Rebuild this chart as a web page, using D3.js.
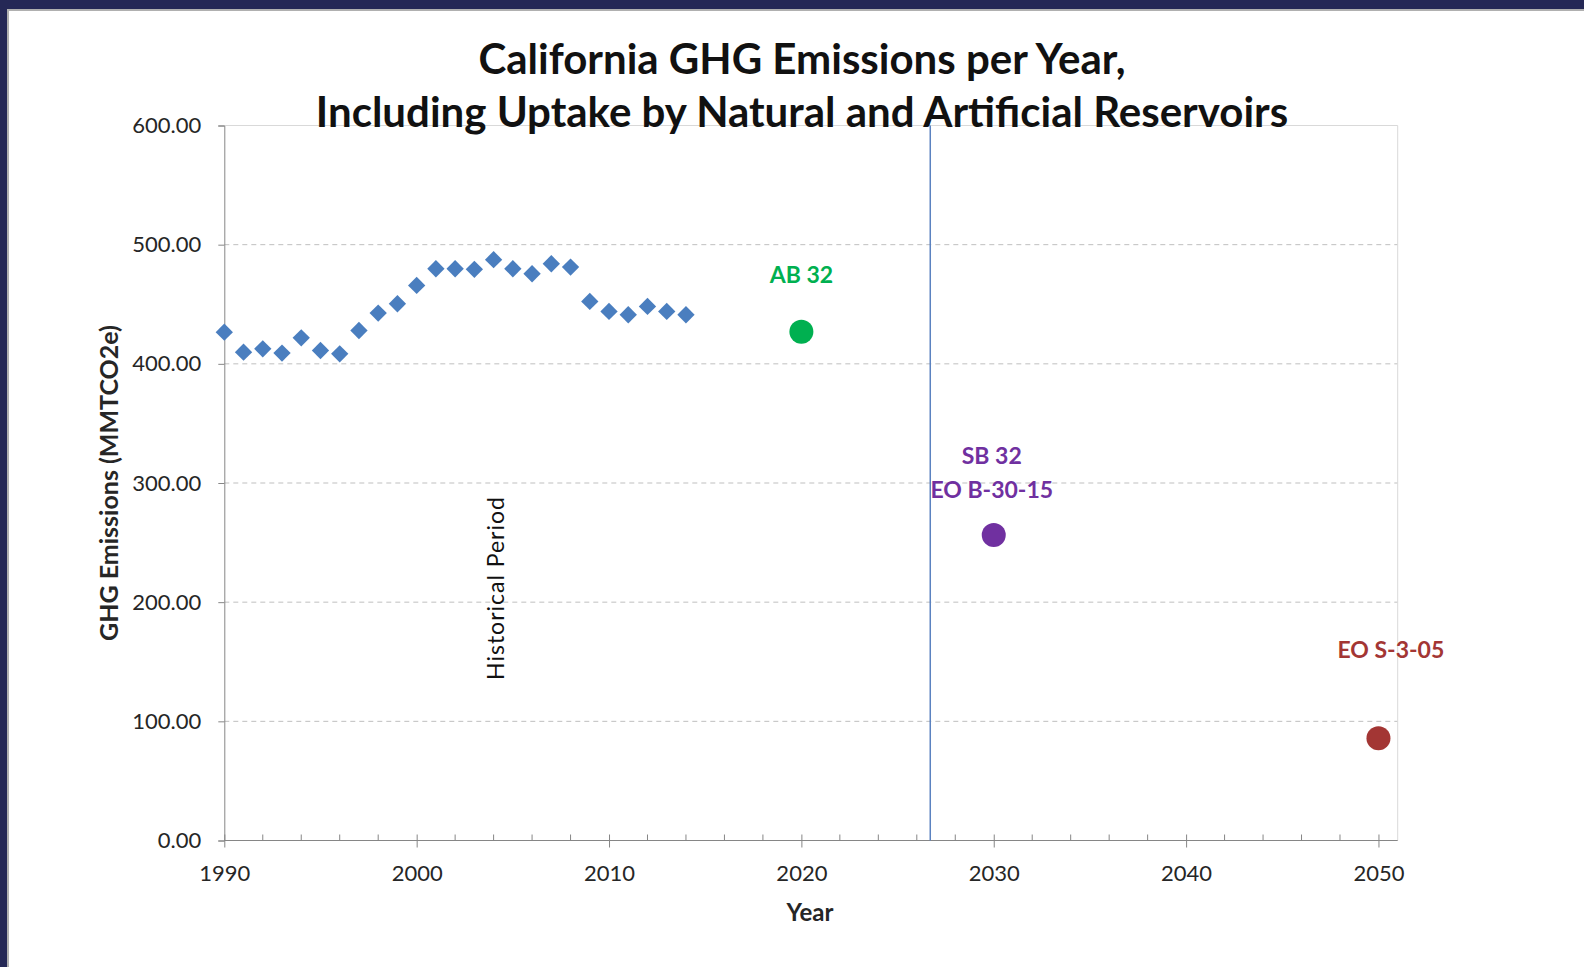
<!DOCTYPE html>
<html>
<head>
<meta charset="utf-8">
<script src="https://d3js.org/d3.v7.min.js"></script>
<style>
    body { margin: 0; background: #fff; }
    svg { display: block; font-family: Lato, "Open Sans", sans-serif; }
</style>
</head>
<body>
<svg id="chart"></svg>
<script>
    // historical emissions
    const years = [1990, 1991, 1992, 1993, 1994, 1995, 1996, 1997, 1998, 1999,
                   2000, 2001, 2002, 2003, 2004, 2005, 2006, 2007, 2008, 2009,
                   2010, 2011, 2012, 2013, 2014];
    const emissions = [426.6, 409.8, 412.6, 409.0, 421.8, 411.2, 408.4, 428.0, 442.6, 450.4,
                       465.8, 479.8, 479.8, 479.3, 487.4, 479.8, 475.6, 484.0, 481.2, 452.4,
                       444.0, 441.2, 448.2, 444.0, 441.2];

    // policy targets
    const targetYears = [2020, 2030, 2050];
    const targetValues = [427, 256.4, 85.8];
    const targetLabels = [["AB 32"], ["SB 32", "EO B-30-15"], ["EO S-3-05"]];
    const targetColors = ["#00b050", "#7030a0", "#a33634"];

    const yTicks = [0, 100, 200, 300, 400, 500, 600];
    const xTicks = [1990, 2000, 2010, 2020, 2030, 2040, 2050];
    const dividerYear = 2026.7;

    const W = 1584, H = 967;
    const svg = d3.select("#chart").attr("width", W).attr("height", H);

    // frame like the slide it came from
    svg.append("rect").attr("width", W).attr("height", 9).attr("fill", "#252856");
    svg.append("rect").attr("width", 7).attr("height", H).attr("fill", "#252856");
    svg.append("line").attr("x1", 8).attr("x2", 8).attr("y1", 9).attr("y2", H)
        .attr("stroke", "#b0b0b0").attr("stroke-width", 2);
    svg.append("line").attr("x1", 7).attr("x2", W).attr("y1", 10).attr("y2", 10)
        .attr("stroke", "#b0b0b0").attr("stroke-width", 2);

    const x = d3.scaleLinear().domain([1990, 2051]).range([224.3, 1397.7]);
    const y = d3.scaleLinear().domain([0, 600]).range([840.5, 125.5]);

    // gridlines
    svg.append("g").selectAll("line")
        .data(yTicks.filter(d => d > 0 && d < 600))
        .join("line")
        .attr("x1", x(1990)).attr("x2", x(2051))
        .attr("y1", d => y(d)).attr("y2", d => y(d))
        .attr("stroke", "#bfbfbf").attr("stroke-dasharray", "5,4");

    // top and right border of the plot
    svg.append("path")
        .attr("d", `M${x(1990)},${y(600)}H${x(2051)}V${y(0)}`)
        .attr("fill", "none").attr("stroke", "#d9d9d9");

    // y axis
    const yAxis = svg.append("g")
        .attr("transform", `translate(${x(1990)},0)`)
        .call(d3.axisLeft(y).tickValues(yTicks).tickSize(6).tickPadding(17)
            .tickFormat(d3.format(".2f")));
    yAxis.selectAll("path, line").attr("stroke", "#868686");
    yAxis.selectAll("text").attr("font-size", 22).attr("fill", "#262626")
        .attr("font-family", "Lato, sans-serif");

    // x axis: minor ticks every 2 years inside, major ticks crossing
    const xAxis = svg.append("g")
        .attr("transform", `translate(0,${y(0)})`)
        .call(d3.axisBottom(x).tickValues(xTicks).tickSize(7)
            .tickFormat(d3.format("d")));
    xAxis.select("path").attr("d", `M${x(1990)},0H${x(2051)}`);
    xAxis.selectAll(".tick line").attr("y1", -6);
    xAxis.selectAll("path, line").attr("stroke", "#868686");
    xAxis.selectAll("text").attr("font-size", 22).attr("fill", "#262626")
        .attr("font-family", "Lato, sans-serif")
        .attr("y", 40).attr("dy", 0);
    xAxis.append("g").selectAll("line")
        .data(d3.range(1992, 2051, 2).filter(d => d % 10 !== 0))
        .join("line")
        .attr("x1", d => x(d)).attr("x2", d => x(d))
        .attr("y1", 0).attr("y2", -6)
        .attr("stroke", "#868686");

    // divider between historical and projected
    svg.append("line")
        .attr("x1", x(dividerYear)).attr("x2", x(dividerYear))
        .attr("y1", y(600)).attr("y2", y(0))
        .attr("stroke", "#5b82c0").attr("stroke-width", 1.5);

    // historical diamonds
    svg.append("g").selectAll("path")
        .data(years)
        .join("path")
        .attr("d", d3.symbol(d3.symbolSquare, 150))
        .attr("transform", (d, i) => `translate(${x(d)},${y(emissions[i])}) rotate(45)`)
        .attr("fill", "#4a7ebf");

    // targets
    svg.append("g").selectAll("circle")
        .data(targetYears)
        .join("circle")
        .attr("cx", d => x(d))
        .attr("cy", (d, i) => y(targetValues[i]))
        .attr("r", 12)
        .attr("fill", (d, i) => targetColors[i]);

    const labelOffsets = [[0, -48.7], [-2, -71], [12.4, -80]];
    targetYears.forEach((yr, i) => {
        const t = svg.append("text")
            .attr("text-anchor", "middle")
            .attr("font-weight", "bold")
            .attr("font-size", 23)
            .attr("fill", targetColors[i]);
        targetLabels[i].forEach((line, j) => {
            t.append("tspan")
                .attr("x", x(yr) + labelOffsets[i][0])
                .attr("y", y(targetValues[i]) + labelOffsets[i][1] + j * 34.3)
                .text(line);
        });
    });

    svg.append("text")
        .attr("transform", `translate(504,588) rotate(-90)`)
        .attr("text-anchor", "middle")
        .attr("font-size", 23)
        .attr("letter-spacing", 1)
        .attr("fill", "#111")
        .text("Historical Period");

    // titles
    const title = svg.append("text")
        .attr("text-anchor", "middle")
        .attr("font-weight", "bold")
        .attr("font-size", 42)
        .attr("fill", "#111");
    title.append("tspan").attr("x", 802).attr("y", 74)
        .text("California GHG Emissions per Year,");
    title.append("tspan").attr("x", 802).attr("y", 127)
        .text("Including Uptake by Natural and Artificial Reservoirs");

    svg.append("text")
        .attr("x", 810).attr("y", 921)
        .attr("text-anchor", "middle")
        .attr("font-weight", "bold")
        .attr("font-size", 24)
        .attr("fill", "#262626")
        .text("Year");

    svg.append("text")
        .attr("transform", `translate(118,483) rotate(-90)`)
        .attr("text-anchor", "middle")
        .attr("font-weight", "bold")
        .attr("font-size", 25)
        .attr("fill", "#262626")
        .text("GHG Emissions (MMTCO2e)");
</script>
</body>
</html>
